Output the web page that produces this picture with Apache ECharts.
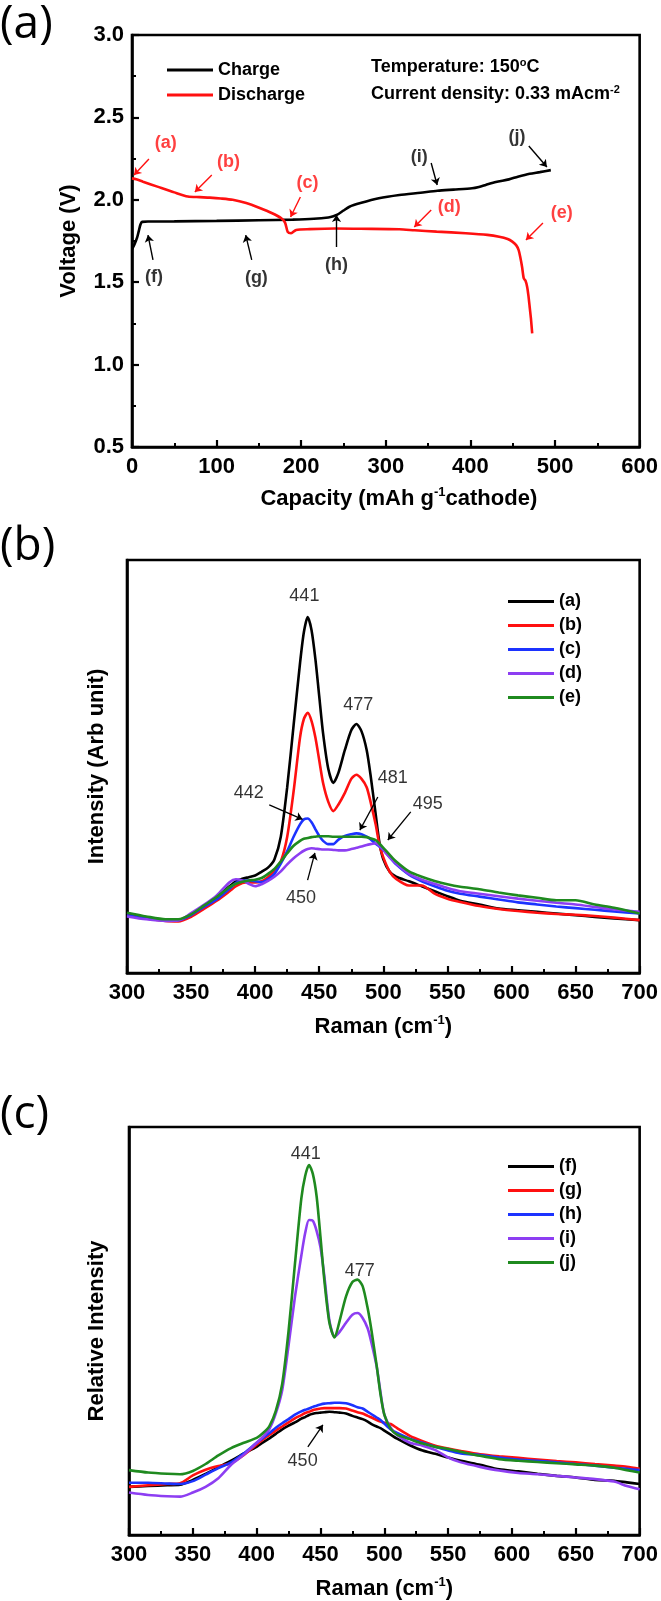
<!DOCTYPE html>
<html>
<head>
<meta charset="utf-8">
<script src="https://cdn.jsdelivr.net/npm/echarts@6/dist/echarts.min.js"></script>
<style>
html,body{margin:0;padding:0;background:#fff;}
#c{width:661px;height:1601px;}
</style>
</head>
<body>
<div id="c"></div>
<script>
// ---------- Panel (a): charge / discharge ----------
const dischargeCurve = [[0,2.130],[5,2.125],[13,2.11],[30,2.08],[50,2.045],[66,2.020],[80,2.016],[92,2.013],[105,2.008],[119,2.0],[135,1.98],[151,1.95],[165,1.92],[176.5,1.888],[181,1.86],[184,1.806],[188,1.797],[194,1.817],[210,1.822],[240,1.826],[270,1.824],[316,1.821],[334,1.815],[360,1.807],[394.5,1.797],[420,1.787],[434,1.776],[444,1.762],[449.5,1.746],[454,1.725],[457,1.695],[459,1.65],[461,1.594],[463,1.524],[465,1.51],[467,1.473],[468.5,1.42],[470,1.351],[471.5,1.28],[473,1.19]];
const chargeCurve = [[0,1.70],[3,1.73],[6,1.77],[8,1.81],[10,1.85],[12,1.866],[20,1.868],[50,1.869],[100,1.872],[150,1.876],[190,1.88],[215,1.885],[232,1.893],[238,1.90],[242,1.908],[250,1.935],[257,1.958],[270,1.98],[291.7,2.009],[316,2.029],[341,2.043],[361,2.055],[380,2.062],[402,2.07],[410,2.078],[418,2.09],[430,2.108],[445.5,2.124],[456,2.14],[470,2.158],[482,2.168],[495,2.18]];
const capacityTicks = [0,100,200,300,400,500,600];
const voltageTicks = [0.5,1.0,1.5,2.0,2.5,3.0];

const dischargeMarks = ['(a)','(b)','(c)','(d)','(e)'];
const dischargeMarkPos = [[40,2.345],[114,2.229],[207.5,2.102],[375,1.956],[508,1.920]];
const dischargeArrows = [[[20,2.248],[2.4,2.150]],[[94.3,2.150],[74.3,2.047]],[[199,2.017],[187.4,1.896]],[[353.6,1.938],[333.6,1.835]],[[485.7,1.859],[465.6,1.756]]];
const chargeMarks = ['(f)','(g)','(h)','(i)','(j)'];
const chargeMarkPos = [[26,1.532],[147,1.525],[241.7,1.604],[339.5,2.26],[455,2.381]];
const chargeArrows = [[[24.8,1.635],[18.9,1.786]],[[141.5,1.635],[134.4,1.786]],[[241.7,1.714],[241.7,1.908]],[[353.6,2.223],[360.7,2.09]],[[469,2.326],[490.4,2.199]]];

// ---------- Panel (b): Raman during discharge ----------
const ramanB = [300,315,330,340,350,360,370,380,385,390,395,400,405,410,415,420,425,430,435,438,441,444,447,450,453,457,461,465,470,475,479,483,487,490,494,497,500,505,510,520,530,540,550,560,575,590,605,620,635,650,665,680,700];
const specA = [14.4,13.5,12.8,12.8,14,16,18.4,21,22.2,22.8,23.2,23.6,24.5,25.5,27.5,33,45,60,75,82.5,86.2,83,76,67,58,49.5,46,48.5,54,58.8,60.3,58.5,54,48,38.5,31.5,27.5,24.5,23.3,22.2,21,19.8,18.6,17.5,16.6,15.6,15.2,14.8,14.4,14,13.6,13.2,12.8];
const specB = [14,13.2,12.6,12.5,13.6,15.5,17.5,19.8,21,21.8,22,21.9,22.2,23.2,24.8,27,33,44,57,61.5,63,61,57,51.5,46,41.5,39.2,40.8,43.6,47,48,47,45,41.5,36,31,28,24.5,22.8,21.2,21.2,19.2,18,17.2,16.2,15.5,15,14.6,14.3,14.1,13.8,13.4,12.8];
const specC = [14,13.2,12.8,12.8,14,16,17.8,20.4,21.8,22.3,22.4,22.2,22,22.7,24,26.5,29.5,33,36,37.2,37.4,36.5,34.8,33.2,32,31.2,31.2,32.3,33.2,33.6,33.8,33.6,33,32.4,31.3,30.6,29.8,28,26.3,23.8,22.2,21,19.9,19.2,18.5,17.8,17.1,16.6,16.1,15.7,15.3,14.9,14.4];
const specD = [13.7,13,12.6,12.7,14.5,16.5,18.8,22,22.7,22.4,21.6,21,21.5,22.3,23.3,24.6,26.3,27.8,29,29.6,30,30.2,30.1,30,29.9,29.9,29.8,29.7,29.7,30,30.3,30.6,31,31.2,31.4,30.8,29.8,28,26.5,24,22.6,21.6,20.6,19.8,19.2,18.6,18,17.5,17,16.6,16,15.4,14.8];
const specE = [14.6,13.7,13,13,14.2,16.3,18.4,20.8,21.6,22.1,22.4,22.6,23,24,25.2,27,29,30.8,32,32.5,32.7,32.9,33,33.1,33.1,33.1,33,33,33,33,33,33,32.9,32.6,32.2,31.3,30.3,28.6,27,24.6,23.3,22.3,21.5,20.9,20.3,19.5,18.8,18.2,17.6,17.6,16.6,15.8,14.4];
const ramanTicks = [300,350,400,450,500,550,600,650,700];
const peakLabelsB = ['441','477','442','481','495','450'];
const peakLabelPosB = [[438.4,91.3],[480.5,64.9],[395,43.6],[507.4,47.1],[534.7,40.9],[435.7,18.2]];
const peakArrowsB = [[[411,40.7],[437,37.2]],[[495.7,42.6],[481.7,34.6]],[[521.4,39],[503.5,32.2]],[[440.9,22.5],[446.6,29.1]]];

// ---------- Panel (c): Raman during charge ----------
const ramanC = [300,315,330,340,350,360,370,380,390,400,405,410,415,420,425,430,435,438,441,444,447,450,453,457,461,465,470,475,479,483,487,490,494,497,500,505,510,520,530,540,550,560,575,590,605,620,635,650,665,680,690,700];
const specF = [11.8,12,12.2,12.3,13.5,15,16.6,18.2,20,21.6,22.7,23.7,24.8,25.9,26.8,27.6,28.5,28.9,29.4,29.7,29.9,30,30.1,30.2,30.1,30,29.8,29.2,28.8,28.4,27.8,27.2,26.6,26.2,25.6,24.6,23.6,22,20.7,19.9,19,18.2,17.2,16.1,15.6,15,14.5,14.1,13.5,13.3,12.9,12.5];
const specG = [11.8,12.2,12.5,12.7,14.6,16,16.9,17.6,19.6,22.2,23.4,24.5,25.6,26.6,27.6,28.6,29.4,29.9,30.2,30.6,30.8,31,31.1,31.1,31.1,31.1,31,30.5,30.1,29.8,29.2,28.8,28.2,27.8,27.5,27.2,26.2,24.3,23,21.9,21.2,20.6,19.8,19.3,18.9,18.5,18.1,17.8,17.4,17,16.7,16.2];
const specH = [12.8,12.8,12.6,12.5,13.2,14.8,16.4,17.8,20,22.6,23.8,25,26.3,27.4,28.4,29.5,30.3,30.7,31,31.4,31.7,32,32.2,32.3,32.4,32.4,32.3,31.8,31.3,31,30.2,29.6,28.8,28.2,27.3,25.9,25,23.6,22.6,21.6,20.7,20,19.6,19,18.5,18.2,17.8,17.4,17,16.5,16.2,15.9];
const specI = [10.4,9.8,9.5,9.4,10.4,11.8,13.9,17.2,19.7,22.6,24.1,26,29.8,35.5,46.5,58.4,68.5,74,77.2,77,74.5,70.5,63.5,52.5,48.6,49.8,52,54,54.4,53.2,50.6,47,41.3,35,29.5,26.3,24.5,22.6,21.9,20.8,19,17.8,16.7,15.8,15.2,14.9,14.5,14.1,13.7,13.1,12,11.2];
const specJ = [15.9,15.3,15,14.9,15.7,17.4,19.5,21.3,22.6,23.8,25,26.7,30.4,37,50,66.5,82.5,88,90.7,88.5,82.9,73,62.5,52,48.4,52.5,58.5,62,62.6,61,55.5,50,41.5,34.5,29.5,26,24.6,23.5,22.4,21.6,21.1,20.4,19.4,18.6,18.2,17.9,17.6,17.3,17,16.5,15.9,15.3];
const peakLabelsC = ['441','477','450'];
const peakLabelPosC = [[438.5,93.4],[480.8,64.8],[436,18.1]];
const peakArrowsC = [[[440.1,21.6],[451.9,27]]];

// ---------- build ----------
const FONT = '"Liberation Sans", Arial, Helvetica, sans-serif';
const BLACK = '#000000', RED = '#ff1010', BLUE = '#1c33ff', PURPLE = '#8d3ef2', GREEN = '#1f8a1f';
const zip = (xs, ys) => xs.map((x, i) => [x, ys[i]]);

function lineSeries(name, data, color, gi) {
  return {
    name, type: 'line', data, xAxisIndex: gi, yAxisIndex: gi,
    symbol: 'none', showSymbol: false, smooth: 0.25,
    lineStyle: { color, width: 2.6 }, itemStyle: { color },
    z: 3, silent: true
  };
}
function labelSeries(names, pos, color, gi, size, weight) {
  return {
    type: 'scatter', xAxisIndex: gi, yAxisIndex: gi, symbolSize: 0, silent: true, z: 5,
    data: names.map((n, i) => ({ name: n, value: pos[i] })),
    label: { show: true, position: 'inside', formatter: p => p.name, color,
      fontFamily: FONT, fontSize: size, fontWeight: weight }
  };
}
function arrowSeries(arrs, color, gi, width) {
  return {
    type: 'lines', coordinateSystem: 'cartesian2d', xAxisIndex: gi, yAxisIndex: gi,
    silent: true, z: 5, symbol: ['none', 'arrow'], symbolSize: 7,
    lineStyle: { color, width, opacity: 1, curveness: 0 },
    data: arrs.map(c => ({ coords: c }))
  };
}

const tickLbl = { fontFamily: FONT, fontSize: 22, fontWeight: 'bold', color: '#000', margin: 9 };
const axLine = { show: true, onZero: false, lineStyle: { color: '#000', width: 2.6 } };
const nameStyle = (extra) => Object.assign({ fontFamily: FONT, fontSize: 22, fontWeight: 'bold', color: '#000',
  rich: { sup: { fontFamily: FONT, fontSize: 13, fontWeight: 'bold', color: '#000', verticalAlign: 'top', padding: [0, 0, 12, 0] } } }, extra || {});

function xAx(gi, min, max, interval, name, nameGap, namePad) {
  return {
    gridIndex: gi, type: 'value', min, max, interval,
    axisLine: axLine,
    axisTick: { show: true, inside: true, length: 7, lineStyle: { color: '#000', width: 2.2 } },
    minorTick: { show: true, splitNumber: 2, length: 4, lineStyle: { color: '#000', width: 2 } },
    splitLine: { show: false },
    axisLabel: Object.assign({}, tickLbl),
    name, nameLocation: 'middle', nameGap, nameTextStyle: nameStyle({ padding: namePad })
  };
}

const grids = [
  { left: 132, top: 35, width: 509, height: 412 },
  { left: 127, top: 560, width: 513, height: 413 },
  { left: 129, top: 1127, width: 511, height: 408 }
].map(g => Object.assign(g, { show: true, borderColor: '#000', borderWidth: 2.6, backgroundColor: 'transparent' }));

const legendText = { fontFamily: FONT, fontSize: 18, fontWeight: 'bold', color: '#000', lineHeight: 20 };

const option = {
  animation: false,
  backgroundColor: '#fff',
  grid: grids,
  xAxis: [
    xAx(0, capacityTicks[0], capacityTicks[capacityTicks.length - 1], capacityTicks[1] - capacityTicks[0],
      'Capacity (mAh g{sup|-1}cathode)', 39, [0, 0, 0, 26]),
    xAx(1, ramanTicks[0], ramanTicks[ramanTicks.length - 1], ramanTicks[1] - ramanTicks[0], 'Raman (cm{sup|-1})', 41, [0, 0, 0, 0]),
    xAx(2, ramanTicks[0], ramanTicks[ramanTicks.length - 1], ramanTicks[1] - ramanTicks[0], 'Raman (cm{sup|-1})', 41, [0, 0, 0, 0])
  ],
  yAxis: [
    {
      gridIndex: 0, type: 'value', min: voltageTicks[0], max: voltageTicks[voltageTicks.length - 1], interval: voltageTicks[1] - voltageTicks[0],
      axisLine: axLine,
      axisTick: { show: true, inside: true, length: 7, lineStyle: { color: '#000', width: 2.2 } },
      minorTick: { show: true, splitNumber: 2, length: 4, lineStyle: { color: '#000', width: 2 } },
      splitLine: { show: false },
      axisLabel: Object.assign({}, tickLbl, { margin: 8, formatter: v => v.toFixed(1) }),
      name: 'Voltage (V)', nameLocation: 'middle', nameRotate: 90, nameGap: 52, nameTextStyle: nameStyle()
    },
    {
      gridIndex: 1, type: 'value', min: 0, max: 100,
      axisLine: axLine, axisTick: { show: false }, axisLabel: { show: false }, splitLine: { show: false },
      name: 'Intensity (Arb unit)', nameLocation: 'middle', nameRotate: 90, nameGap: 19, nameTextStyle: nameStyle()
    },
    {
      gridIndex: 2, type: 'value', min: 0, max: 100,
      axisLine: axLine, axisTick: { show: false }, axisLabel: { show: false }, splitLine: { show: false },
      name: 'Relative Intensity', nameLocation: 'middle', nameRotate: 90, nameGap: 21, nameTextStyle: nameStyle()
    }
  ],
  legend: [
    { data: ['Charge', 'Discharge'], orient: 'vertical', left: 162, top: 55, icon: 'rect', itemWidth: 46, itemHeight: 3, itemGap: 5,
      textStyle: legendText },
    { data: ['(a)', '(b)', '(c)', '(d)', '(e)'], orient: 'vertical', left: 503, top: 586.5, icon: 'rect', itemWidth: 46, itemHeight: 3, itemGap: 4,
      textStyle: legendText },
    { data: ['(f)', '(g)', '(h)', '(i)', '(j)'], orient: 'vertical', left: 503, top: 1151.5, icon: 'rect', itemWidth: 46, itemHeight: 3, itemGap: 4,
      textStyle: legendText }
  ],
  graphic: [
    { type: 'text', left: 0, top: 2, style: { text: '(a)', font: '46px "Open Sans", "Noto Sans", sans-serif', fill: '#000' } },
    { type: 'text', left: 0, top: 524, style: { text: '(b)', font: '46px "Open Sans", "Noto Sans", sans-serif', fill: '#000' } },
    { type: 'text', left: 0, top: 1092, style: { text: '(c)', font: '46px "Open Sans", "Noto Sans", sans-serif', fill: '#000' } },
    { type: 'text', left: 371, top: 57, style: { text: '{t|Temperature: 150}{s|o}{t|C}',
      rich: { t: { fontFamily: FONT, fontSize: 18, fontWeight: 'bold', fill: '#000' }, s: { fontFamily: FONT, fontSize: 11, fontWeight: 'bold', fill: '#000', verticalAlign: 'top', padding: [0, 0, 10, 0] } } } },
    { type: 'text', left: 371, top: 84, style: { text: '{t|Current density: 0.33 mAcm}{s|-2}',
      rich: { t: { fontFamily: FONT, fontSize: 18, fontWeight: 'bold', fill: '#000' }, s: { fontFamily: FONT, fontSize: 11, fontWeight: 'bold', fill: '#000', verticalAlign: 'top', padding: [0, 0, 10, 0] } } } }
  ],
  series: [
    lineSeries('Charge', chargeCurve, BLACK, 0),
    lineSeries('Discharge', dischargeCurve, RED, 0),
    labelSeries(dischargeMarks, dischargeMarkPos, RED, 0, 18, 'bold'),
    labelSeries(chargeMarks, chargeMarkPos, BLACK, 0, 18, 'bold'),
    arrowSeries(dischargeArrows, RED, 0, 1.4),
    arrowSeries(chargeArrows, BLACK, 0, 1.4),

    lineSeries('(a)', zip(ramanB, specA), BLACK, 1),
    lineSeries('(b)', zip(ramanB, specB), RED, 1),
    lineSeries('(c)', zip(ramanB, specC), BLUE, 1),
    lineSeries('(d)', zip(ramanB, specD), PURPLE, 1),
    lineSeries('(e)', zip(ramanB, specE), GREEN, 1),
    labelSeries(peakLabelsB, peakLabelPosB, BLACK, 1, 18, 'normal'),
    arrowSeries(peakArrowsB, BLACK, 1, 1.3),

    lineSeries('(f)', zip(ramanC, specF), BLACK, 2),
    lineSeries('(g)', zip(ramanC, specG), RED, 2),
    lineSeries('(h)', zip(ramanC, specH), BLUE, 2),
    lineSeries('(i)', zip(ramanC, specI), PURPLE, 2),
    lineSeries('(j)', zip(ramanC, specJ), GREEN, 2),
    labelSeries(peakLabelsC, peakLabelPosC, BLACK, 2, 18, 'normal'),
    arrowSeries(peakArrowsC, BLACK, 2, 1.3)
  ]
};

const chart = echarts.init(document.getElementById('c'), null, { renderer: 'canvas' });
chart.setOption(option);
</script>
</body>
</html>
